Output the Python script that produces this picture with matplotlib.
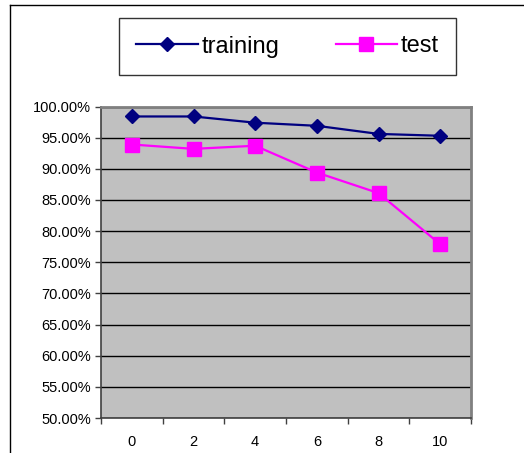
import matplotlib

matplotlib.use("Agg")
import matplotlib.pyplot as plt
import numpy as np
from matplotlib.lines import Line2D
from matplotlib.ticker import FixedLocator, PercentFormatter

categories = ["0", "2", "4", "6", "8", "10"]
training = [0.984, 0.984, 0.974, 0.969, 0.956, 0.953]
test = [0.939, 0.932, 0.937, 0.894, 0.861, 0.779]
y_ticks = np.arange(0.50, 1.0001, 0.05)

plt.rcParams["font.family"] = ["Liberation Sans", "DejaVu Sans"]

fig = plt.figure(figsize=(5.24, 4.53), dpi=100)
ax = fig.add_axes([101 / 524, 1 - 418 / 453, 370 / 524, (418 - 106.5) / 453])
ax.set_facecolor("#C0C0C0")

x = np.arange(len(categories))
ax.plot(x, training, color="#000080", lw=1.6, marker="D", ms=7.5, label="training", zorder=3)
ax.plot(x, test, color="#FF00FF", lw=1.6, marker="s", ms=10, label="test", zorder=3)

ax.set_xlim(-0.5, len(categories) - 0.5)
ax.set_ylim(0.5, 1.0)
ax.set_yticks(y_ticks)
ax.yaxis.set_major_formatter(PercentFormatter(1.0, decimals=2))
ax.yaxis.grid(True, color="black", lw=1.0)
ax.set_axisbelow(True)

ax.xaxis.set_major_locator(FixedLocator(np.arange(len(categories) + 1) - 0.5))
ax.xaxis.set_major_formatter(plt.NullFormatter())
ax.xaxis.set_minor_locator(FixedLocator(x))
ax.set_xticklabels(categories, minor=True)
ax.tick_params(axis="x", which="minor", length=0, pad=12, labelsize=10.5)
ax.tick_params(axis="x", which="major", length=4, width=1, color="#404040")
ax.tick_params(axis="y", length=4, width=1, color="#404040", labelsize=10.5, pad=3)

for side in ("left", "bottom"):
    ax.spines[side].set_color("#404040")
    ax.spines[side].set_linewidth(1.2)
for side in ("top", "right"):
    ax.spines[side].set_color("#808080")
    ax.spines[side].set_linewidth(2)

fig.legend(
    loc="center",
    bbox_to_anchor=((118 + 457) / 2 / 524, 1 - 46.5 / 453),
    ncol=2,
    fontsize=17,
    frameon=True,
    fancybox=False,
    edgecolor="black",
    handlelength=2.6,
    handletextpad=0.15,
    columnspacing=2.4,
    borderpad=0.75,
    borderaxespad=0,
)

fig.add_artist(Line2D([9.5 / 524, 9.5 / 524], [0, 1 - 4.5 / 453], color="black", lw=1))
fig.add_artist(Line2D([9.5 / 524, 1], [1 - 4.5 / 453, 1 - 4.5 / 453], color="black", lw=1))

fig.savefig("out.png", dpi=100)
